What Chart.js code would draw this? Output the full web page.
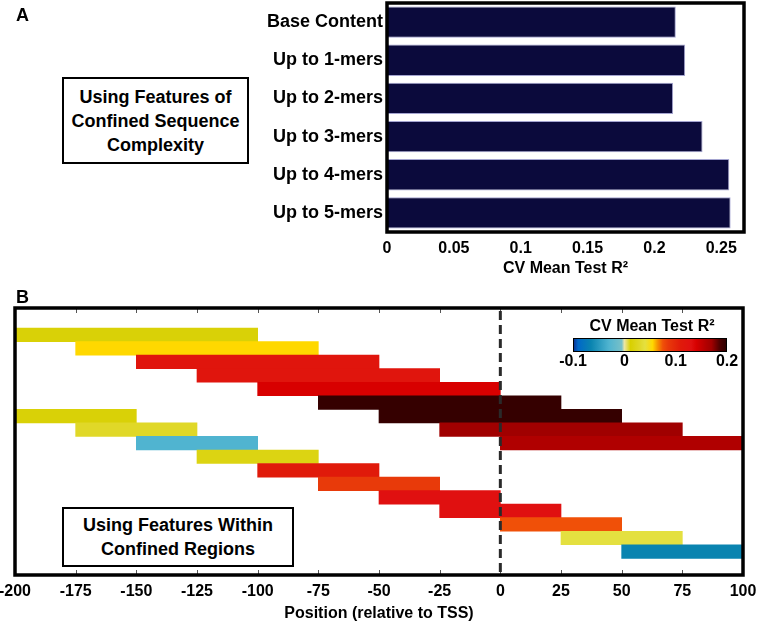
<!doctype html>
<html lang="en">
<head>
<meta charset="utf-8">
<title>CV Mean Test R2</title>
<script src="https://cdn.jsdelivr.net/npm/chart.js@4.4.1/dist/chart.umd.min.js"></script>
<style>
  body { margin: 0; background: #fff; font-family: "Liberation Sans", Arial, sans-serif; }
  #wrap { position: relative; width: 760px; height: 623px; overflow: hidden; }
  canvas { position: absolute; left: 0; }
  .tag { position: absolute; left: 16px; font-weight: bold; font-size: 18px; line-height: 18px; }
  .note { position: absolute; box-sizing: border-box; border: 2px solid #000; background: #fff;
          font-weight: bold; font-size: 18px; line-height: 24px; text-align: center;
          display: flex; align-items: center; justify-content: center; }
</style>
<script>
// panel A : k-mer feature sets
const kmerLabels = ['Base Content', 'Up to 1-mers', 'Up to 2-mers', 'Up to 3-mers', 'Up to 4-mers', 'Up to 5-mers'];
const kmerR2 = [0.216, 0.223, 0.214, 0.236, 0.256, 0.257];
const kmerTicks = [0, 0.05, 0.1, 0.15, 0.2, 0.25];

// panel B : windows relative to TSS
const posTicks = [-200, -175, -150, -125, -100, -75, -50, -25, 0, 25, 50, 75, 100];
const win100Start = [-200, -175, -150, -125, -100, -75, -50, -25, 0];
const win100R2 = [0.015, 0.055, 0.12, 0.12, 0.14, 0.195, 0.195, 0.17, 0.16];
const win50Start = [-200, -175, -150, -125, -100, -75, -50, -25, 0, 25, 50];
const win50R2 = [0.015, 0.03, -0.03, 0.02, 0.11, 0.085, 0.13, 0.13, 0.075, 0.04, -0.065];

// colour scale
const cbTicks = [-0.1, 0, 0.1, 0.2];
const cmapValues = [-0.1, -0.09, -0.065, -0.03, -0.005, 0, 0.012, 0.03, 0.04, 0.055, 0.065, 0.075, 0.085, 0.11, 0.13, 0.14, 0.16, 0.17, 0.185, 0.2];
const cmapColors = ['#0a2a8c', '#0068c8', '#0a84b0', '#50b4d0', '#78c0c8', '#ece6a8', '#d8d000', '#e0d828', '#e4e040', '#ffd800',
                    '#f59000', '#f05008', '#e83a0a', '#e01a0a', '#e01010', '#d80000', '#b00000', '#a00000', '#500000', '#280000'];

const hexRgb = h => [1, 3, 5].map(i => parseInt(h.substr(i, 2), 16));

function cmap(v) {
    const n = cmapValues.length;
    if (v <= cmapValues[0]) return cmapColors[0];
    if (v >= cmapValues[n - 1]) return cmapColors[n - 1];
    let i = 1;
    while (cmapValues[i] < v) i++;
    const t = (v - cmapValues[i - 1]) / (cmapValues[i] - cmapValues[i - 1]);
    const a = hexRgb(cmapColors[i - 1]), b = hexRgb(cmapColors[i]);
    const c = a.map((x, k) => Math.round(x + (b[k] - x) * t));
    return 'rgb(' + c.join(',') + ')';
}

const boldFont = size => ({ family: '"Liberation Sans", Arial, sans-serif', size: size, weight: 'bold' });

// chart.js keeps room for the end tick labels, we place the plot area ourselves
const noEdgePadding = s => { s.paddingLeft = 0; s.paddingRight = 0; s.paddingTop = 0; s.paddingBottom = 0; };

// thick black box round the plot area
const framePlugin = {
    id: 'frame',
    afterDraw(chart) {
        const { ctx, chartArea: a } = chart;
        ctx.save();
        ctx.strokeStyle = '#000';
        ctx.lineWidth = 3.5;
        ctx.strokeRect(a.left, a.top, a.right - a.left, a.bottom - a.top);
        ctx.restore();
    }
};

// dashed TSS line, inner ticks and colour bar for panel B
const panelBPlugin = {
    id: 'panelB',
    afterDatasetsDraw(chart) {
        const { ctx, chartArea: a, scales: { x } } = chart;
        ctx.save();
        ctx.strokeStyle = '#555';
        ctx.lineWidth = 1;
        posTicks.forEach(v => {
            const px = Math.round(x.getPixelForValue(v)) + 0.5;
            ctx.beginPath();
            ctx.moveTo(px, a.top); ctx.lineTo(px, a.top + 5);
            ctx.moveTo(px, a.bottom); ctx.lineTo(px, a.bottom - 5);
            ctx.stroke();
        });
        const x0 = x.getPixelForValue(0);
        ctx.strokeStyle = '#2a2a2a';
        ctx.lineWidth = 3;
        ctx.setLineDash([9, 5]);
        ctx.beginPath();
        ctx.moveTo(x0, a.top + 3);
        ctx.lineTo(x0, a.bottom);
        ctx.stroke();
        ctx.setLineDash([]);

        // colour bar
        const cbL = a.right - 170, cbW = 154, cbT = a.top + 30, cbH = 14;
        const lo = cmapValues[0], hi = cmapValues[cmapValues.length - 1];
        const grad = ctx.createLinearGradient(cbL, 0, cbL + cbW, 0);
        cmapValues.forEach((v, i) => grad.addColorStop((v - lo) / (hi - lo), cmapColors[i]));
        ctx.fillStyle = grad;
        ctx.fillRect(cbL, cbT, cbW, cbH);
        ctx.strokeStyle = '#000';
        ctx.lineWidth = 1;
        ctx.strokeRect(cbL + 0.5, cbT + 0.5, cbW - 1, cbH - 1);
        ctx.fillStyle = '#000';
        ctx.font = 'bold 16px "Liberation Sans", Arial, sans-serif';
        ctx.textAlign = 'center';
        ctx.textBaseline = 'middle';
        cbTicks.forEach(v => {
            ctx.fillText(String(v), cbL + (v - lo) / (hi - lo) * cbW, cbT + cbH + 10);
        });
        ctx.fillText('CV Mean Test R\u00b2', cbL + cbW / 2 + 2, cbT - 11);
        ctx.restore();
    }
};

const init = () => {
    new Chart(document.getElementById('chartA'), {
        type: 'bar',
        data: {
            labels: kmerLabels,
            datasets: [{
                data: kmerR2,
                backgroundColor: '#0b0a3c',
                borderColor: '#a4a4d0',
                borderWidth: 1,
                barPercentage: 0.82,
                categoryPercentage: 1
            }]
        },
        options: {
            indexAxis: 'y',
            responsive: false,
            animation: false,
            layout: { padding: { top: 3, right: 16, left: 0, bottom: 0 } },
            plugins: { legend: { display: false }, tooltip: { enabled: false } },
            scales: {
                x: {
                    min: 0, max: 0.267,
                    grid: { display: false, drawTicks: false },
                    border: { display: false },
                    afterBuildTicks: s => { s.ticks = kmerTicks.map(v => ({ value: v })); },
                    afterFit: s => { s.height = 53; noEdgePadding(s); },
                    ticks: { color: '#000', font: boldFont(16), padding: 7, callback: v => String(+v.toFixed(2)) },
                    title: { display: true, text: 'CV Mean Test R\u00b2', color: '#000', font: boldFont(16), padding: { top: 0, bottom: 7 } }
                },
                y: {
                    grid: { display: false, drawTicks: false },
                    border: { display: false },
                    afterFit: s => { s.width = 387; noEdgePadding(s); },
                    ticks: { color: '#000', font: boldFont(18), padding: 4 }
                }
            }
        },
        plugins: [framePlugin]
    });

    // one floating bar per window; the 50 bp windows start on row 7
    const rows = [];
    const colours = [];
    win100Start.forEach((s, i) => { rows.push({ x: [s, s + 100], y: i + 1 }); colours.push(cmap(win100R2[i])); });
    win50Start.forEach((s, i) => { rows.push({ x: [s, s + 50], y: i + 7 }); colours.push(cmap(win50R2[i])); });

    new Chart(document.getElementById('chartB'), {
        type: 'bar',
        data: {
            datasets: [{
                data: rows,
                backgroundColor: colours,
                borderWidth: 0,
                barPercentage: 1,
                categoryPercentage: 1
            }]
        },
        options: {
            indexAxis: 'y',
            responsive: false,
            animation: false,
            layout: { padding: { top: 23, right: 17, left: 15, bottom: 0 } },
            plugins: { legend: { display: false }, tooltip: { enabled: false } },
            scales: {
                x: {
                    type: 'linear', min: -200, max: 100,
                    grid: { display: false, drawTicks: false },
                    border: { display: false },
                    afterBuildTicks: s => { s.ticks = posTicks.map(v => ({ value: v })); },
                    afterFit: s => { s.height = 48; noEdgePadding(s); },
                    ticks: { color: '#000', font: boldFont(16), padding: 7, callback: v => String(v) },
                    title: { display: true, text: 'Position (relative to TSS)', color: '#000', font: boldFont(16), padding: { top: 0, bottom: 0 } }
                },
                y: {
                    type: 'linear', min: 0.25, max: 17.5, reverse: true, display: false,
                    afterBuildTicks: s => { s.ticks = s.ticks.filter(t => Number.isInteger(t.value) && t.value >= 1); }
                }
            }
        },
        plugins: [panelBPlugin, framePlugin]
    });
};

window.onload = init;
</script>
</head>
<body>
<div id="wrap">
    <canvas id="chartA" width="760" height="285" style="top:0"></canvas>
    <canvas id="chartB" width="760" height="338" style="top:285px"></canvas>
    <div class="tag" style="top:6px">A</div>
    <div class="tag" style="top:288px">B</div>
    <div class="note" style="left:62px; top:77px; width:187px; height:87px;">Using Features of<br>Confined Sequence<br>Complexity</div>
    <div class="note" style="left:62px; top:507px; width:232px; height:60px;">Using Features Within<br>Confined Regions</div>
</div>
</body>
</html>
